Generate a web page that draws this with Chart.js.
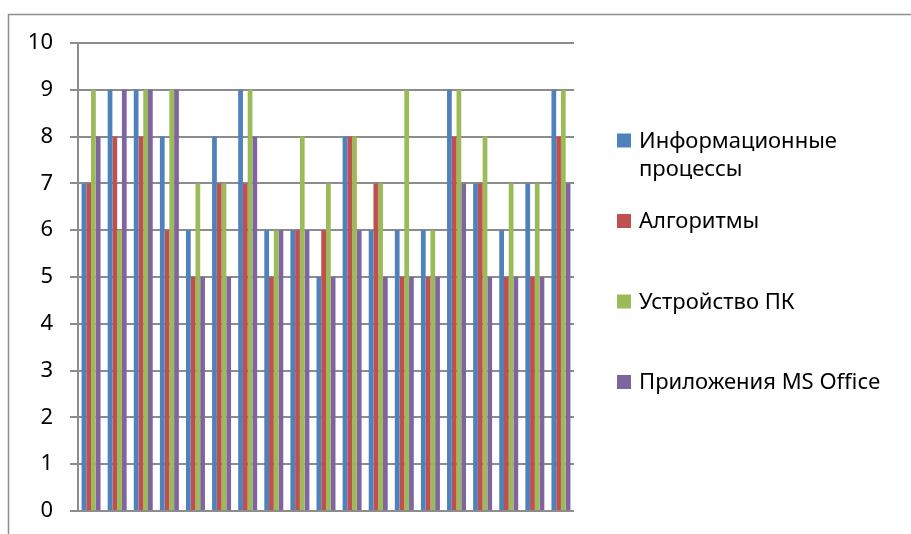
<!DOCTYPE html>
<html lang="ru">
<head>
<meta charset="utf-8">
<title>Результаты по темам</title>
<script src="https://cdn.jsdelivr.net/npm/chart.js@4.4.1/dist/chart.umd.min.js"></script>
<style>
  html, body { margin: 0; padding: 0; background: #fff; overflow: hidden; }
  #wrap { width: 911px; height: 534px; }
</style>
</head>
<body>
<div id="wrap"><canvas id="chart" width="911" height="534"></canvas></div>
<script>
// Ученики (подписи категорий на оси не выводятся)
const categories = ['1','2','3','4','5','6','7','8','9','10','11','12','13','14','15','16','17','18','19'];

// Оценки по темам
const infoProcesses = [7, 9, 9, 8, 6, 8, 9, 6, 6, 5, 8, 6, 6, 6, 9, 7, 6, 7, 9];
const algorithms    = [7, 8, 8, 6, 5, 7, 7, 5, 6, 6, 8, 7, 5, 5, 8, 7, 5, 5, 8];
const pcDevice      = [9, 6, 9, 9, 7, 7, 9, 6, 8, 7, 8, 7, 9, 6, 9, 8, 7, 7, 9];
const msOffice      = [8, 9, 9, 9, 5, 5, 8, 6, 6, 5, 6, 5, 5, 5, 7, 5, 5, 5, 7];

const seriesNames = ['Информационные процессы', 'Алгоритмы', 'Устройство ПК', 'Приложения MS Office'];
const seriesColors = ['#4F81BD', '#C0504D', '#9BBB59', '#8064A2'];

// Y-axis ticks 0..10
const yMin = 0, yMax = 10, yStep = 1;

const FONT = '"Noto Sans", "DejaVu Sans", sans-serif';
const GRID = '#8c8c8c';

// Outer frame of the chart object
const framePlugin = {
  id: 'frame',
  beforeDraw(chart, args, opts) {
    const ctx = chart.ctx;
    ctx.save();
    ctx.fillStyle = '#ffffff';
    ctx.fillRect(0, 0, chart.width, chart.height);
    ctx.strokeStyle = opts.color;
    ctx.lineWidth = opts.width;
    ctx.beginPath();
    ctx.moveTo(chart.width + 2, opts.top);
    ctx.lineTo(opts.left, opts.top);
    ctx.lineTo(opts.left, chart.height + 2);
    ctx.stroke();
    ctx.restore();
  }
};

// Legend on the right: colour square + label, long labels wrapped
function wrapText(ctx, text, maxWidth) {
  const words = text.split(' ');
  const lines = [];
  let line = '';
  words.forEach(w => {
    const test = line ? line + ' ' + w : w;
    if (line && ctx.measureText(test).width > maxWidth) {
      lines.push(line);
      line = w;
    } else {
      line = test;
    }
  });
  if (line) lines.push(line);
  return lines;
}

const sideLegend = {
  id: 'sideLegend',
  afterDraw(chart, args, opts) {
    const ctx = chart.ctx;
    ctx.save();
    ctx.font = opts.size + 'px ' + FONT;
    ctx.textBaseline = 'alphabetic';
    ctx.textAlign = 'left';
    const maxW = chart.width - opts.textX - 4;
    let baseline = opts.firstBaseline;
    chart.data.datasets.forEach(ds => {
      const lines = wrapText(ctx, ds.label, maxW);
      ctx.fillStyle = ds.backgroundColor;
      ctx.fillRect(opts.boxX, baseline - opts.box, opts.box, opts.box);
      ctx.fillStyle = opts.color;
      lines.forEach((l, i) => ctx.fillText(l, opts.textX, baseline + i * opts.lineHeight));
      baseline += opts.step;
    });
    ctx.restore();
  }
};

const seriesData = [infoProcesses, algorithms, pcDevice, msOffice];

new Chart(document.getElementById('chart'), {
  type: 'bar',
  data: {
    labels: categories,
    datasets: seriesData.map((vals, i) => ({
      label: seriesNames[i],
      data: vals,
      backgroundColor: seriesColors[i],
      borderWidth: 0,
      categoryPercentage: 0.727,
      barPercentage: 1.0
    }))
  },
  options: {
    responsive: false,
    animation: false,
    devicePixelRatio: 1,
    layout: { padding: { left: 0, top: 43, right: 337, bottom: 23 } },
    plugins: {
      legend: { display: false },
      tooltip: { enabled: false },
      frame: { color: '#8e8e8e', width: 1.5, left: 8.5, top: 14.5 },
      sideLegend: {
        size: 22, color: '#000000',
        boxX: 617, box: 14, textX: 639,
        firstBaseline: 147.5, step: 80.5, lineHeight: 28.5
      }
    },
    scales: {
      x: {
        display: false,
        grid: { display: false }
      },
      y: {
        min: yMin,
        max: yMax,
        ticks: {
          stepSize: yStep,
          padding: 17,
          color: '#000000',
          font: { family: FONT, size: 22 }
        },
        grid: {
          color: GRID,
          lineWidth: 2,
          tickLength: 8,
          drawTicks: true
        },
        border: { display: true, color: GRID, width: 2 },
        afterFit(scale) {
          scale.width = 78;
          scale.paddingTop = 0;
          scale.paddingBottom = 0;
        }
      }
    }
  },
  plugins: [framePlugin, sideLegend]
});
</script>
</body>
</html>
